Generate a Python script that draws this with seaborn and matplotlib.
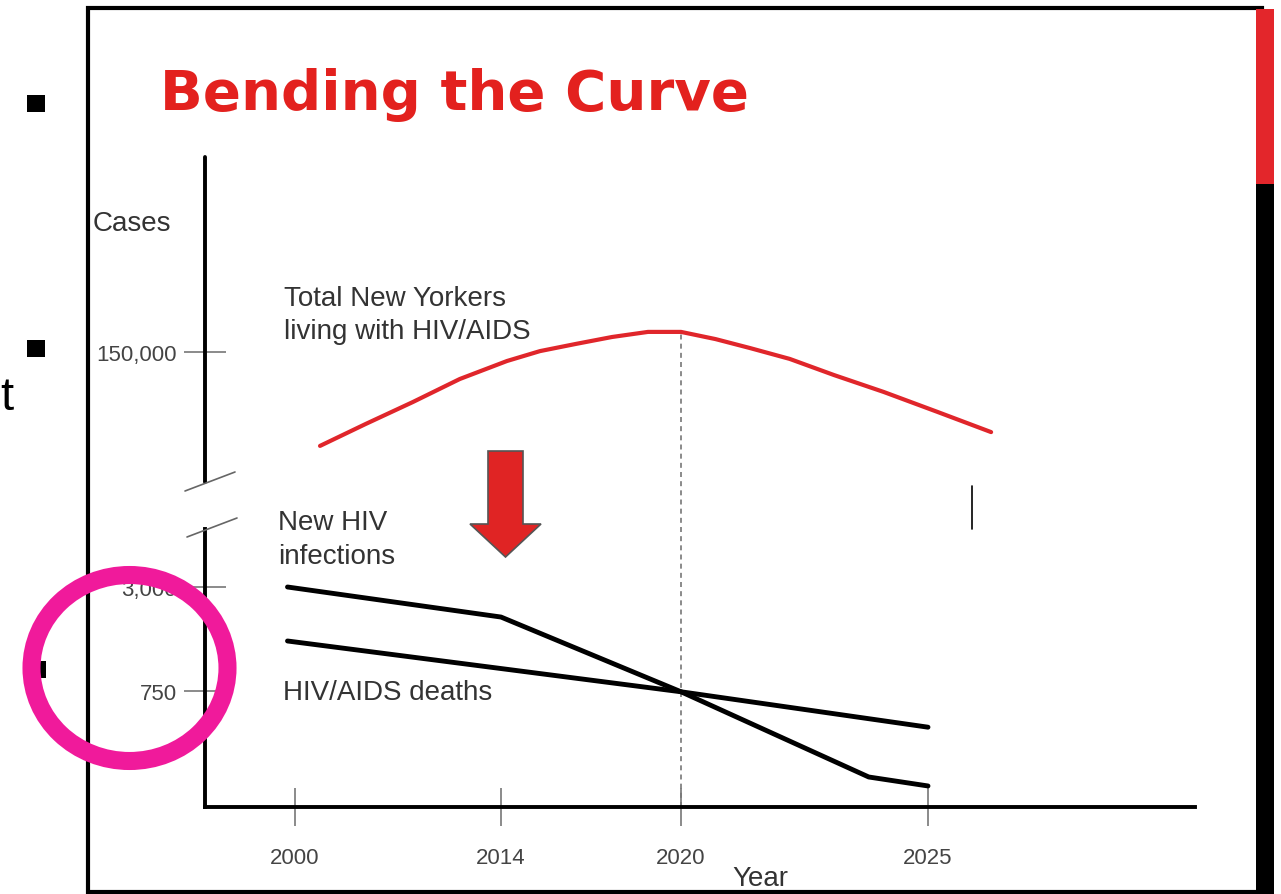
import numpy as np
import pandas as pd
import seaborn as sns
import matplotlib
matplotlib.use("Agg")
from matplotlib import pyplot as plt
from matplotlib.patches import Ellipse, Rectangle, Polygon
from matplotlib.lines import Line2D

# values (schematic chart)
years_total = [2001.7, 2004.8, 2008.0, 2011.2, 2014.2, 2015.3, 2016.5, 2017.7, 2018.9, 2020.0,
               2020.7, 2021.4, 2022.2, 2023.1, 2024.1, 2025.2, 2026.3]
cases_total = [118700, 126000, 133300, 141000, 147000, 150300, 152700, 155000, 156700, 156700,
               154300, 151300, 147700, 142300, 136700, 130000, 123300]

years_new = [1999.5, 2014, 2020, 2023.8, 2025]
cases_new = [3000, 2350, 745, 194, 136]

years_deaths = [1999.5, 2020, 2025]
cases_deaths = [1832, 745, 516]

year_ticks = [2000, 2014, 2020, 2025]
case_ticks = [750, 3000, 150000]
case_tick_labels = ["750", "3,000", "150,000"]

# the slide's axes are not linear: piecewise scale anchors
year_anchor = [1994, 2000, 2014, 2020, 2025, 2030.5]
year_pos = [0, 90, 296, 476, 723, 990]
case_anchor = [0, 750, 3000, 100000, 150000, 215000]
case_pos = [0, 116, 220, 305, 455, 650]

W, H = 1281, 895


def fx(x):
    return x / W


def fy(y):
    return 1 - y / H


sns.set_style("white")
plt.rcParams['font.family'] = ['Liberation Sans', 'DejaVu Sans']

fig = plt.figure(figsize=(W / 100, H / 100), dpi=100)
ax = fig.add_axes([fx(205), fy(808), 990 / W, 650 / H])
ax.set_facecolor("none")

df_total = pd.DataFrame({"year": years_total, "cases": cases_total})
df_new = pd.DataFrame({"year": years_new, "cases": cases_new})
df_deaths = pd.DataFrame({"year": years_deaths, "cases": cases_deaths})

line_kw = dict(estimator=None, sort=False, solid_joinstyle="round", solid_capstyle="round")
sns.lineplot(data=df_total, x="year", y="cases", ax=ax, color="#E0262B", lw=3, **line_kw)
sns.lineplot(data=df_new, x="year", y="cases", ax=ax, color="black", lw=3.5, **line_kw)
sns.lineplot(data=df_deaths, x="year", y="cases", ax=ax, color="black", lw=3.5, **line_kw)
ax.vlines(2020, 0, cases_total[years_total.index(2020.0)], colors="#777777", lw=1.2,
          linestyles=(0, (3, 2.5)), zorder=1)

ax.set_xscale('function', functions=(lambda v: np.interp(v, year_anchor, year_pos),
                                     lambda p: np.interp(p, year_pos, year_anchor)))
ax.set_yscale('function', functions=(lambda v: np.interp(v, case_anchor, case_pos),
                                     lambda p: np.interp(p, case_pos, case_anchor)))
ax.set_xlim(year_anchor[0], year_anchor[-1])
ax.set_ylim(case_anchor[0], case_anchor[-1])

ax.set_xticks(year_ticks)
ax.set_xticklabels([str(y) for y in year_ticks])
ax.set_yticks(case_ticks)
ax.set_yticklabels(case_tick_labels)
ax.tick_params(axis='x', direction='inout', length=27, width=1.2, color='#777777', pad=15,
               labelsize=16, labelcolor='#444444', bottom=True)
ax.tick_params(axis='y', direction='inout', length=30, width=1.2, color='#777777', pad=5,
               labelsize=16, labelcolor='#444444', left=True)

for s in ["top", "right", "left"]:
    ax.spines[s].set_visible(False)
ax.spines["bottom"].set_linewidth(2.8)
ax.spines["bottom"].set_color("black")

# broken y axis
ax.plot([0, 0], [0, 278 / 650], transform=ax.transAxes, color="black", lw=2.8, clip_on=False,
        solid_capstyle="projecting")
ax.plot([0, 0], [325 / 650, 1], transform=ax.transAxes, color="black", lw=2.8, clip_on=False)
for (x0, y0, x1, y1) in [(185, 492, 235, 473), (187, 538, 237, 519)]:
    ax.plot([(x0 - 205) / 990, (x1 - 205) / 990], [(808 - y0) / 650, (808 - y1) / 650],
            transform=ax.transAxes, color="#666666", lw=1.2, clip_on=False)

ax.set_xlabel("Year", fontsize=20, color="#333333")
ax.xaxis.set_label_coords((760 - 205) / 990, (808 - 866) / 650)
ax.set_ylabel("Cases", fontsize=20, color="#333333", rotation=0, ha="left", va="baseline")
ax.yaxis.set_label_coords((93 - 205) / 990, (808 - 231) / 650)

# series labels
txt = dict(fontsize=20, color="#333333", ha="left", va="baseline")
fig.text(fx(284), fy(306), "Total New Yorkers", **txt)
fig.text(fx(284), fy(339), "living with HIV/AIDS", **txt)
fig.text(fx(278), fy(530), "New HIV", **txt)
fig.text(fx(278), fy(564), "infections", **txt)
fig.text(fx(283), fy(700), "HIV/AIDS deaths", **txt)

# slide decorations
fig.text(fx(160), fy(110), "Bending the Curve", ha="left", va="baseline", fontsize=40.5,
         weight="bold", color="#E3211E", family="DejaVu Sans")
fig.text(fx(0), fy(410), "t", ha="left", va="baseline", fontsize=34, color="black")

arrow = [(488, 452), (523, 452), (523, 525), (541, 525), (505.5, 558), (470, 525), (488, 525)]
fig.patches.append(Polygon([(fx(a), fy(b)) for a, b in arrow], closed=True, transform=fig.transFigure,
                           facecolor="#E02424", edgecolor="#555555", lw=1.2, zorder=5))
fig.patches.append(Rectangle((fx(88), fy(893)), (1262 - 88) / W, (893 - 9) / H, transform=fig.transFigure,
                             fill=False, edgecolor="black", lw=3, zorder=4))
fig.patches.append(Rectangle((fx(1256), fy(185)), 18 / W, 175 / H, transform=fig.transFigure,
                             facecolor="#E3262B", edgecolor="none", zorder=5))
fig.patches.append(Rectangle((fx(1256), fy(895)), 18 / W, 710 / H, transform=fig.transFigure,
                             facecolor="black", edgecolor="none", zorder=5))
for (bx, by) in [(27, 96), (27, 341), (28, 662)]:
    fig.patches.append(Rectangle((fx(bx), fy(by + 17)), 18 / W, 17 / H, transform=fig.transFigure,
                                 facecolor="black", edgecolor="none", zorder=5))
fig.lines.append(Line2D([fx(972), fx(972)], [fy(487), fy(530)], transform=fig.transFigure,
                        color="black", lw=1.2))
fig.patches.append(Ellipse((fx(129.5), fy(669)), 196 / W, 186 / H, transform=fig.transFigure,
                           fill=False, edgecolor="#F01A9B", lw=13, zorder=10))

fig.savefig("out.png", dpi=100)
